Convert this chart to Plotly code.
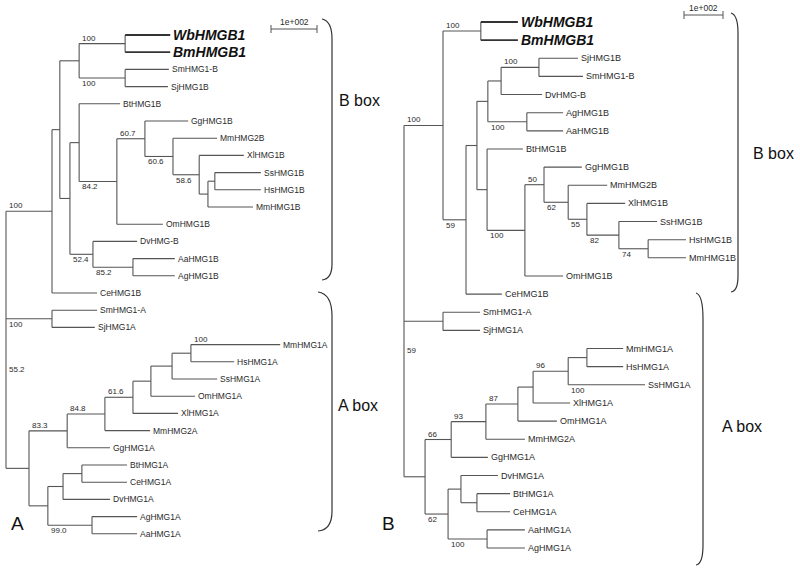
import plotly.graph_objects as go

W, H = 800, 571

# ---------------- Tree A (left panel): preorder node list ----------------
A_nodes = ["root", "nB", "nB1", "nWS", "nWB", "WbHMGB1", "BmHMGB1", "nSS", "SmHMG1-B", "SjHMG1B",
           "nV", "nV1", "BtHMG1B", "nV2", "nV3", "GgHMG1B", "nV4", "MmHMG2B", "nV5", "XlHMG1B",
           "nV6", "nV7", "SsHMG1B", "HsHMG1B", "MmHMG1B", "OmHMG1B", "nI", "DvHMG-B", "nI2",
           "AaHMG1B", "AgHMG1B", "CeHMG1B", "nSA", "SmHMG1-A", "SjHMG1A", "nA", "nA1", "nA2",
           "nA3", "nA4", "nA5", "nA6", "MmHMG1A", "HsHMG1A", "SsHMG1A", "OmHMG1A", "XlHMG1A",
           "MmHMG2A", "GgHMG1A", "nA7", "nA8", "nA9", "BtHMG1A", "CeHMG1A", "DvHMG1A", "nA10",
           "AgHMG1A", "AaHMG1A"]
A_parents = [None, "root", "nB", "nB1", "nWS", "nWB", "nWB", "nWS", "nSS", "nSS",
             "nB1", "nV", "nV1", "nV1", "nV2", "nV3", "nV3", "nV4", "nV4", "nV5",
             "nV5", "nV6", "nV7", "nV7", "nV6", "nV2", "nV", "nI", "nI",
             "nI2", "nI2", "nB", "root", "nSA", "nSA", "root", "nA", "nA1",
             "nA2", "nA3", "nA4", "nA5", "nA6", "nA6", "nA5", "nA4", "nA3",
             "nA2", "nA1", "nA", "nA7", "nA8", "nA9", "nA9", "nA8", "nA7",
             "nA10", "nA10"]
A_depth = [0, 100, 117, 159, 259, 357, 357, 259, 354, 352,
           139, 159, 248, 241, 302, 396, 363, 459, 420, 517,
           439, 454, 554, 554, 537, 341, 189, 285, 276,
           367, 367, 198, 100, 198, 193, 50, 133, 215,
           276, 315, 361, 402, 596, 496, 459, 411, 374,
           313, 226, 91, 124, 165, 263, 263, 226, 187,
           285, 285]
A_boot_parent = ["nWS", "nWS", "nV2", "nV3", "nV4", "nV1", "root", "nV", "nI", "root",
                 "nA6", "nA2", "nA1", "nA", "nA7"]
A_boot_child = ["nWB", "nSS", "nV3", "nV4", "nV5", "nV2", "nB", "nI", "nI2", "nSA",
                "MmHMG1A", "nA3", "nA2", "nA1", "nA10"]
A_boot_value = ["100", "100", "60.7", "60.6", "58.6", "84.2", "100", "52.4", "85.2", "100",
                "100", "61.6", "84.8", "83.3", "99.0"]
A_boot_side = ["above", "below", "above", "below", "below", "below", "above", "below", "below", "below",
               "above", "above", "above", "above", "below"]
A_root_label = "55.2"

# ---------------- Tree B (right panel) ----------------
B_nodes = ["root", "nB", "nWB", "WbHMGB1", "BmHMGB1", "nB2", "nB3", "nB4", "nB5", "nSS",
           "SjHMG1B", "SmHMG1-B", "DvHMG-B", "nAA", "AgHMG1B", "AaHMG1B", "nB6", "BtHMG1B",
           "nB7", "nB8", "GgHMG1B", "nB9", "MmHMG2B", "nB10", "XlHMG1B", "nB11", "SsHMG1B",
           "nB12", "HsHMG1B", "MmHMG1B", "OmHMG1B", "CeHMG1B", "nSA", "SmHMG1-A", "SjHMG1A",
           "nA", "nA1", "nA2", "nA3", "nA4", "nA5", "nA6", "MmHMG1A", "HsHMG1A", "SsHMG1A",
           "XlHMG1A", "OmHMG1A", "MmHMG2A", "GgHMG1A", "nA7", "nA8", "DvHMG1A", "nA9",
           "BtHMG1A", "CeHMG1A", "nA10", "AaHMG1A", "AgHMG1A"]
B_parents = [None, "root", "nB", "nWB", "nWB", "nB", "nB2", "nB3", "nB4", "nB5",
             "nSS", "nSS", "nB5", "nB4", "nAA", "nAA", "nB3", "nB6",
             "nB6", "nB7", "nB8", "nB8", "nB9", "nB9", "nB10", "nB10", "nB11",
             "nB11", "nB12", "nB12", "nB7", "nB2", "root", "nSA", "nSA",
             "root", "nA", "nA1", "nA2", "nA3", "nA4", "nA5", "nA6", "nA6", "nA5",
             "nA4", "nA3", "nA2", "nA1", "nA", "nA7", "nA8", "nA8",
             "nA9", "nA9", "nA7", "nA10", "nA10"]
B_depth = [0, 100, 197, 292, 292, 159, 187, 215, 249, 346,
           446, 459, 354, 315, 408, 408, 213, 305,
           310, 359, 456, 421, 521, 469, 567, 551, 649,
           626, 723, 723, 408, 251, 100, 195, 195,
           54, 121, 210, 292, 331, 421, 469, 562, 562, 618,
           426, 392, 310, 215, 113, 146, 241, 187,
           272, 272, 213, 310, 310]
B_boot_parent = ["nB", "nB5", "nB4", "root", "nB7", "nB8", "nB", "nB9", "nB6", "nB10",
                 "nB11", "nA4", "nA5", "nA2", "nA1", "nA", "nA", "nA7"]
B_boot_child = ["nWB", "nSS", "nAA", "nB", "nB8", "nB9", "nB2", "nB10", "nB7", "nB11",
                "nB12", "nA5", "SsHMG1A", "nA3", "nA2", "nA1", "nA7", "nA10"]
B_boot_value = ["100", "100", "100", "100", "50", "62", "59", "55", "100", "82",
                "74", "96", "100", "87", "93", "66", "62", "100"]
B_boot_side = ["above", "above", "below", "above", "above", "below", "below", "below", "below", "below",
               "below", "above", "below", "above", "above", "above", "below", "below"]
B_root_label = "59"

scale_label = "1e+002"
bold_taxa = ["WbHMGB1", "BmHMGB1"]

# ---------------- geometry of the page (pixels) ----------------
A_root_px, A_ppu = 6, 0.46      # root x, pixels per distance unit
A_row0, A_rowh = 35, 17.2
B_root_px, B_ppu = 404, 0.39
B_row0, B_rowh = 22, 18.14

LINE = "#555555"
TXT = "#2a2a2a"
FONT = "Arial, Liberation Sans, sans-serif"


def layout_tree(nodes, parents, depth):
    children = {n: [] for n in nodes}
    for n, p in zip(nodes, parents):
        if p is not None:
            children[p].append(n)
    pos = {}
    row = [0]

    def visit(n):
        if not children[n]:
            pos[n] = (depth[nodes.index(n)], row[0])
            row[0] += 1
        else:
            for c in children[n]:
                visit(c)
            ys = [pos[c][1] for c in children[n]]
            pos[n] = (depth[nodes.index(n)], (ys[0] + ys[-1]) / 2.0)

    visit(nodes[0])
    return pos, children


fig = go.Figure()
annotations = []
shapes = []


def draw_tree(nodes, parents, depth, bp, bc, bv, bs, root_label, root_frac, xa, ya, leaf_size):
    pos, children = layout_tree(nodes, parents, depth)
    xs, ys, xb, yb = [], [], [], []
    for n, p in zip(nodes, parents):
        if p is not None:
            tx, ty = (xb, yb) if n in bold_taxa else (xs, ys)
            tx += [pos[p][0], pos[n][0], None]
            ty += [pos[n][1], pos[n][1], None]
        if children[n]:
            c0, c1 = children[n][0], children[n][-1]
            xs += [pos[n][0], pos[n][0], None]
            ys += [pos[c0][1], pos[c1][1], None]
    fig.add_trace(go.Scatter(x=xs, y=ys, mode="lines", xaxis=xa, yaxis=ya,
                             line=dict(color=LINE, width=1.1), hoverinfo="skip", showlegend=False))
    fig.add_trace(go.Scatter(x=xb, y=yb, mode="lines", xaxis=xa, yaxis=ya,
                             line=dict(color="#333333", width=1.8), hoverinfo="skip", showlegend=False))
    xr = "x" if xa == "x" else xa
    yr = "y" if ya == "y" else ya
    for n in nodes:
        if children[n]:
            continue
        if n in bold_taxa:
            txt, size, col = "<b><i>%s</i></b>" % n, 14, "#111111"
        else:
            txt, size, col = n, leaf_size, TXT
        annotations.append(dict(x=pos[n][0], y=pos[n][1], xref=xr, yref=yr, text=txt,
                                showarrow=False, xanchor="left", yanchor="middle", xshift=1,
                                font=dict(family=FONT, size=size, color=col)))
    for p, c, v, s in zip(bp, bc, bv, bs):
        annotations.append(dict(x=pos[p][0], y=pos[c][1], xref=xr, yref=yr, text=v,
                                showarrow=False, xanchor="left",
                                yanchor="bottom" if s == "above" else "top",
                                xshift=1, yshift=-1 if s == "above" else 1,
                                font=dict(family=FONT, size=8, color=TXT)))
    ysa, yna = pos["nSA"][1], pos["nA"][1]
    annotations.append(dict(x=0, y=ysa + (yna - ysa) * root_frac, xref=xr, yref=yr, text=root_label,
                            showarrow=False, xanchor="left", yanchor="middle", xshift=1,
                            font=dict(family=FONT, size=8, color=TXT)))
    return pos


draw_tree(A_nodes, A_parents, A_depth, A_boot_parent, A_boot_child, A_boot_value, A_boot_side,
          A_root_label, 0.34, "x", "y", 8.5)
draw_tree(B_nodes, B_parents, B_depth, B_boot_parent, B_boot_child, B_boot_value, B_boot_side,
          B_root_label, 0.19, "x2", "y2", 9)


# scale bars (100 distance units)
def scale_bar(x0, row, xa, ya, rowh):
    t = 4.0 / rowh
    fig.add_trace(go.Scatter(x=[x0, x0 + 100, None, x0, x0, None, x0 + 100, x0 + 100],
                             y=[row, row, None, row - t, row + t, None, row - t, row + t],
                             mode="lines", xaxis=xa, yaxis=ya, line=dict(color=LINE, width=1),
                             hoverinfo="skip", showlegend=False))
    annotations.append(dict(x=x0 + 50, y=row, xref=xa, yref=ya, text=scale_label, showarrow=False,
                            xanchor="center", yanchor="bottom", yshift=0,
                            font=dict(family=FONT, size=8.5, color=TXT)))


scale_bar((271 - A_root_px) / A_ppu, (29 - A_row0) / A_rowh, "x", "y", A_rowh)
scale_bar((684 - B_root_px) / B_ppu, (15 - B_row0) / B_rowh, "x2", "y2", B_rowh)


# braces and box titles (page decoration, pixel based)
def px(x, y):
    return "%.5f %.5f" % (x / W, 1 - y / H)


def brace(x_end, x_line, y_top, y_bot, r_top, r_bot):
    path = ("M " + px(x_end, y_top) + " Q " + px(x_line, y_top + 2) + " " + px(x_line, y_top + r_top) +
            " L " + px(x_line, y_bot - r_bot) + " Q " + px(x_line, y_bot - 1) + " " + px(x_end, y_bot))
    shapes.append(dict(type="path", path=path, xref="paper", yref="paper",
                       line=dict(color="#333333", width=1.2)))


brace(322, 332, 19, 280, 20, 16)
brace(318, 332, 292, 531, 24, 20)
brace(731, 738, 13, 292, 20, 16)
brace(696, 703, 293, 565, 26, 20)


def page_text(x, y, t, size, anchor="left"):
    annotations.append(dict(x=x / W, y=1 - y / H, xref="paper", yref="paper", text=t, showarrow=False,
                            xanchor=anchor, yanchor="middle",
                            font=dict(family=FONT, size=size, color="#111111")))


page_text(337, 100, "B box", 16)
page_text(336, 405, "A box", 16)
page_text(751, 153, "B box", 16)
page_text(720, 426, "A box", 16)
page_text(9, 523, "A", 19)
page_text(380, 523, "B", 19)

ax_common = dict(visible=False, showgrid=False, zeroline=False, fixedrange=True)
fig.update_layout(
    width=W, height=H, margin=dict(l=0, r=0, t=0, b=0),
    paper_bgcolor="white", plot_bgcolor="white", showlegend=False,
    xaxis=dict(domain=[0, 0.5], range=[(0 - A_root_px) / A_ppu, (400 - A_root_px) / A_ppu], **ax_common),
    yaxis=dict(domain=[0, 1], range=[(H - A_row0) / A_rowh, (0 - A_row0) / A_rowh], **ax_common),
    xaxis2=dict(domain=[0.5, 1], range=[(400 - B_root_px) / B_ppu, (800 - B_root_px) / B_ppu],
                anchor="y2", **ax_common),
    yaxis2=dict(domain=[0, 1], range=[(H - B_row0) / B_rowh, (0 - B_row0) / B_rowh],
                anchor="x2", **ax_common),
    annotations=annotations, shapes=shapes,
)

fig.write_html("out.html", config={"displayModeBar": False},
               post_script="document.body.style.margin='0';document.body.style.overflow='hidden';")
